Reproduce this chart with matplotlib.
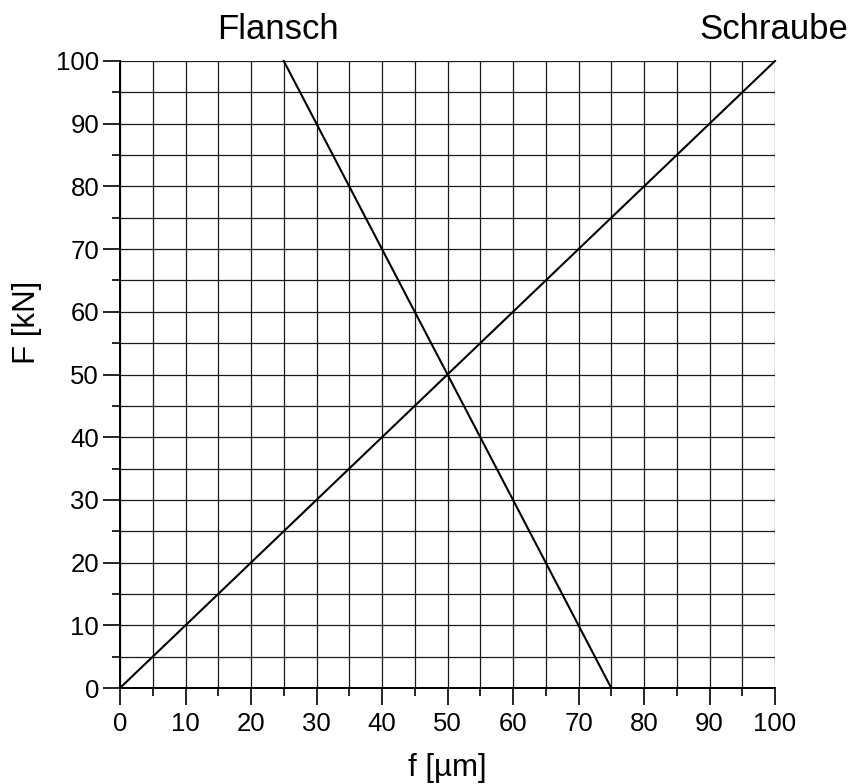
import matplotlib
matplotlib.use("Agg")
import matplotlib.pyplot as plt
import numpy as np

plt.rcParams['font.family'] = ['Liberation Sans', 'DejaVu Sans']

# Data
schraube_f = [0, 100]
schraube_F = [0, 100]
flansch_f = [25, 75]
flansch_F = [100, 0]
x_major = list(range(0, 101, 10))
y_major = list(range(0, 101, 10))

fig = plt.figure(figsize=(8.52, 7.84), dpi=100)
ax = fig.add_axes([120/852, 1-688/784, 655/852, 627/784])

ax.plot(schraube_f, schraube_F, color='black', lw=1.5, zorder=3, clip_on=False)
ax.plot(flansch_f, flansch_F, color='black', lw=1.5, zorder=3, clip_on=False)

ax.set_xlim(0, 100)
ax.set_ylim(0, 100)
ax.set_xticks(x_major)
ax.set_yticks(y_major)
ax.set_xticks(np.arange(5, 100, 10), minor=True)
ax.set_yticks(np.arange(5, 100, 10), minor=True)
ax.grid(True, which='both', color='#1a1a1a', lw=0.9)
ax.set_axisbelow(True)

ax.tick_params(axis='both', which='major', direction='out', length=12, width=1.2,
               labelsize=18.5, colors='black')
ax.tick_params(axis='both', which='minor', direction='out', length=6, width=1.2)
ax.tick_params(axis='x', pad=5)
ax.tick_params(axis='y', pad=3)

for side in ['top', 'right']:
    ax.spines[side].set_visible(False)
for side in ['left', 'bottom']:
    ax.spines[side].set_linewidth(1.4)

ax.set_xlabel('f [µm]', fontsize=22.5)
ax.xaxis.set_label_coords(0.5, (688-768)/627)
ax.xaxis.label.set_va('center')
ax.set_ylabel('F [kN]', fontsize=22.5)
ax.yaxis.set_label_coords((27-120)/655, (688-322)/627)
ax.yaxis.label.set_va('center')

fig.text(277.5/852, 1-39/784, 'Flansch', fontsize=25, ha='center', va='baseline')
fig.text(848/852, 1-39/784, 'Schraube', fontsize=25, ha='right', va='baseline')

fig.savefig('out.png', dpi=100)
